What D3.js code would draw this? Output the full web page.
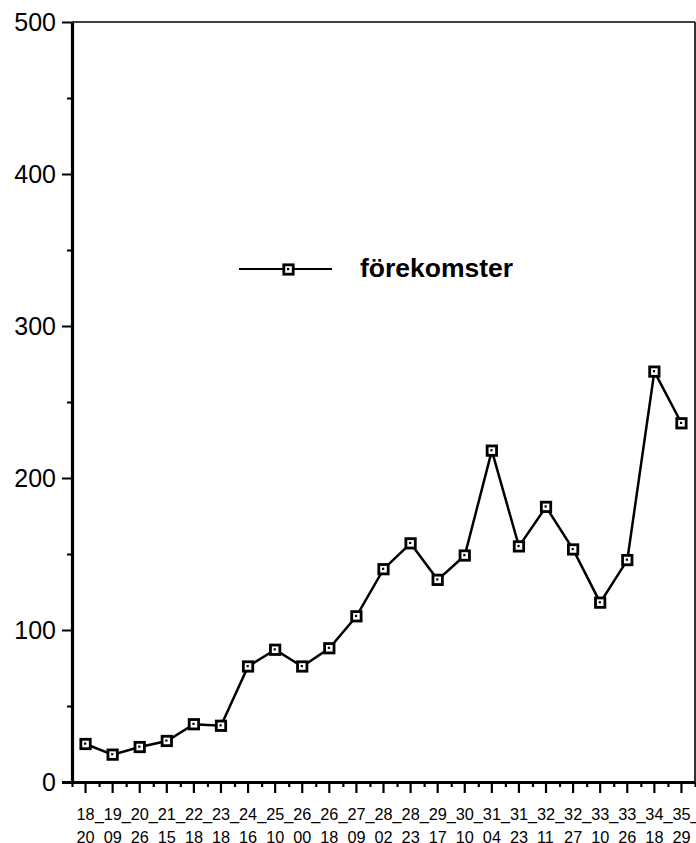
<!DOCTYPE html>
<html>
<head>
<meta charset="utf-8">
<script src="https://cdn.jsdelivr.net/npm/d3@7"></script>
<style>
  body { margin: 0; background: #fff; }
  svg { display: block; font-family: "Liberation Sans", Arial, sans-serif; }
</style>
</head>
<body>
<svg id="chart" width="696" height="843"></svg>
<script>
// ---- data ----
const labelTop = ["18_","19_","20_","21_","22_","23_","24_","25_","26_","26_","27_","28_","28_","29_","30_","31_","31_","32_","32_","33_","33_","34_","35_"];
const labelBottom = ["20","09","26","15","18","18","16","10","00","18","09","02","23","17","10","04","23","11","27","10","26","18","29"];
const values = [25, 18, 23, 27, 38, 37, 76, 87, 76, 88, 109, 140, 157, 133, 149, 218, 155, 181, 153, 118, 146, 270, 236];
const seriesName = "förekomster";
const yMajorTicks = [0, 100, 200, 300, 400, 500];
const yMinorTicks = [50, 150, 250, 350, 450];

(function () {
const svg = d3.select("#chart");
const pLeft = 72, pRight = 695, pTop = 22, pBottom = 782;

const categories = labelBottom.map((d, i) => i);
const x = d3.scaleBand().domain(categories).range([pLeft, pRight]).padding(0);
const xEdge = d3.scaleLinear().domain([0, categories.length]).range([pLeft, pRight]);
const y = d3.scaleLinear().domain([0, 500]).range([pBottom, pTop]);
const cx = i => x(i) + x.bandwidth() / 2;

// frame top and right
svg.append("line").attr("x1", pLeft).attr("x2", pRight).attr("y1", pTop).attr("y2", pTop)
  .attr("stroke", "#000").attr("stroke-width", 1.6);
svg.append("line").attr("x1", pRight).attr("x2", pRight).attr("y1", pTop).attr("y2", pBottom)
  .attr("stroke", "#000").attr("stroke-width", 1.6);

// y axis minor
const yMinor = svg.append("g").attr("transform", `translate(${pLeft},0)`)
  .call(d3.axisLeft(y).tickValues(yMinorTicks).tickSize(5).tickSizeOuter(0).tickFormat(""));
yMinor.select(".domain").remove();
// y axis major
const yAx = svg.append("g").attr("transform", `translate(${pLeft},0)`)
  .call(d3.axisLeft(y).tickValues(yMajorTicks).tickSize(10).tickSizeOuter(0).tickPadding(6));
yAx.select(".domain").attr("stroke-width", 3.2);
yAx.selectAll("text").style("font-size", "25px").attr("fill", "#000")
  .style("font-family", "'Liberation Sans', Arial, sans-serif");
svg.selectAll("g .tick line").attr("stroke-width", 2);

// x axis minor (band edges)
const xMinor = svg.append("g").attr("transform", `translate(0,${pBottom})`)
  .call(d3.axisBottom(xEdge).tickValues(d3.range(categories.length + 1)).tickSize(5).tickSizeOuter(0).tickFormat(""));
xMinor.select(".domain").remove();
xMinor.selectAll(".tick line").attr("stroke-width", 2.2);
// x axis major (band centers)
const xAx = svg.append("g").attr("transform", `translate(0,${pBottom})`)
  .call(d3.axisBottom(x).tickSize(11).tickSizeOuter(0).tickFormat(""));
xAx.select(".domain").attr("stroke-width", 3.2).attr("d", `M${pLeft - 10},0.5H${pRight}`);
xAx.selectAll(".tick line").attr("stroke-width", 2.2);

// x labels (two lines)
const xl = svg.append("g");
categories.forEach(i => {
  const t = xl.append("text").attr("text-anchor", "start")
    .style("font-size", "16.3px").style("font-family", "'Liberation Sans', Arial, sans-serif").attr("fill", "#000");
  t.append("tspan").attr("x", cx(i) - 9).attr("y", 820).text(labelTop[i]);
  t.append("tspan").attr("x", cx(i) - 9).attr("y", 842.5).text(labelBottom[i]);
});

// line
const line = d3.line().x((d, i) => cx(i)).y(d => y(d));
svg.append("path").datum(values).attr("d", line)
  .attr("fill", "none").attr("stroke", "#000").attr("stroke-width", 2.5).attr("stroke-linejoin", "miter");

function marker(g, mx, my) {
  g.append("rect").attr("x", mx - 4.7).attr("y", my - 4.7).attr("width", 9.4).attr("height", 9.4)
    .attr("fill", "#fff").attr("stroke", "#000").attr("stroke-width", 2.8);
  g.append("rect").attr("x", mx - 1.5).attr("y", my - 1.5).attr("width", 2.2).attr("height", 2.2).attr("fill", "#000");
}
const mk = svg.append("g");
values.forEach((v, i) => marker(mk, cx(i), y(v)));

// legend
const lg = svg.append("g");
lg.append("line").attr("x1", 239).attr("x2", 332).attr("y1", 269).attr("y2", 269)
  .attr("stroke", "#000").attr("stroke-width", 2.2);
marker(lg, 288.5, 269.5);
lg.append("text").attr("x", 360).attr("y", 277).style("font-size", "26.5px").attr("font-weight", "bold")
  .attr("fill", "#000").text(seriesName);
})();
</script>
</body>
</html>
